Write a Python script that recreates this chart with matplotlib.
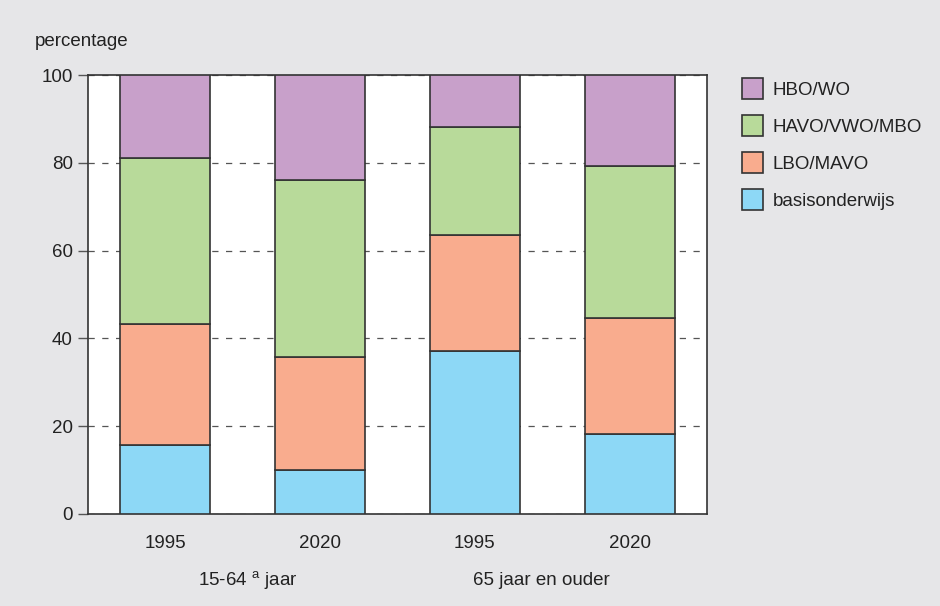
import numpy as np
import matplotlib.pyplot as plt
from matplotlib.patches import Patch

plt.rcParams['font.family'] = ['Liberation Sans', 'DejaVu Sans']
plt.rcParams['mathtext.fontset'] = 'custom'
plt.rcParams['mathtext.rm'] = 'Liberation Sans'

years = ['1995', '2020', '1995', '2020']
groups = ['15-64 $^{\\mathrm{a}}$ jaar', '65 jaar en ouder']
labels = ['basisonderwijs', 'LBO/MAVO', 'HAVO/VWO/MBO', 'HBO/WO']
basis = [15.7, 10.0, 37.1, 18.2]
lbo = [27.6, 25.8, 26.5, 26.4]
havo = [37.8, 40.3, 24.6, 34.7]
hbo = [18.9, 23.9, 11.8, 20.7]
colors = ['#8DD8F6', '#F9AC8E', '#B8DA9A', '#C8A0CA']

bg = '#E6E6E8'
fig = plt.figure(figsize=(9.4, 6.06), dpi=100, facecolor=bg)
ax = fig.add_axes([88 / 940, 1 - 514 / 606, (707 - 88) / 940, (514 - 75) / 606])
ax.set_facecolor('white')

x = np.arange(len(years))
bottom = np.zeros(len(years))
for vals, c in zip([basis, lbo, havo, hbo], colors):
    ax.bar(x, vals, 0.58, bottom=bottom, color=c, edgecolor='#333333',
           linewidth=1.2, zorder=3)
    bottom += np.array(vals)

ax.set_xlim(-0.5, 3.5)
ax.set_ylim(0, 100)
ax.set_yticks(range(0, 101, 20))
ax.yaxis.grid(True, linestyle=(0, (5, 6)), color='#555555', linewidth=0.9, zorder=1)
ax.set_axisbelow(True)
for s in ax.spines.values():
    s.set_color('#333333')
    s.set_linewidth(1.2)
ax.tick_params(axis='y', direction='out', length=7, width=1, color='#555555',
               labelsize=13.5, labelcolor='#222222', pad=4)
ax.set_xticks(x)
ax.set_xticklabels(years)
ax.tick_params(axis='x', length=0, labelsize=13.5, labelcolor='#222222', pad=15)

ax.text(0.53, -0.152, groups[0], transform=ax.get_xaxis_transform(),
        ha='center', va='center', fontsize=13.5, color='#222222')
ax.text(2.43, -0.152, groups[1], transform=ax.get_xaxis_transform(),
        ha='center', va='center', fontsize=13.5, color='#222222')

fig.text(35 / 940, 1 - 42 / 606, 'percentage', ha='left', va='center',
         fontsize=13.5, color='#222222')

handles = [Patch(facecolor=c, edgecolor='#333333', linewidth=1.2) for c in colors]
leg = fig.legend(handles[::-1], labels[::-1], loc='upper left',
                 bbox_to_anchor=(725 / 940, 1 - 61 / 606), frameon=False,
                 fontsize=13.5, handlelength=1.1, handleheight=1.35,
                 labelspacing=0.86, handletextpad=0.55)
for t in leg.get_texts():
    t.set_color('#222222')

fig.savefig('out.png', dpi=100, facecolor=bg)
